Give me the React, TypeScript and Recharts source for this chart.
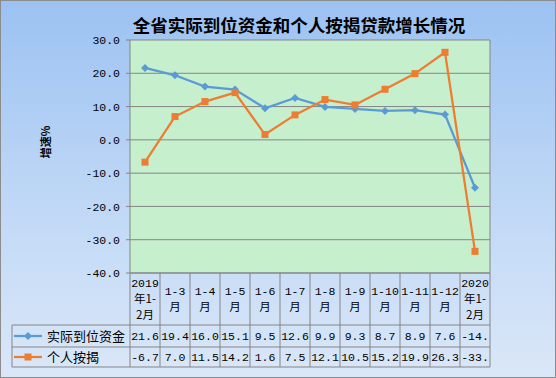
import React from "react";
import { LineChart, Line, XAxis, YAxis, CartesianGrid } from "recharts";

// 分类（表头分行显示）
const categoryLines: string[][] = [
  ["2019", "年1-", "2月"],
  ["1-3", "月"],
  ["1-4", "月"],
  ["1-5", "月"],
  ["1-6", "月"],
  ["1-7", "月"],
  ["1-8", "月"],
  ["1-9", "月"],
  ["1-10", "月"],
  ["1-11", "月"],
  ["1-12", "月"],
  ["2020", "年1-", "2月"],
];

const fundsName = "实际到位资金";
const mortgageName = "个人按揭";

const funds = [21.6, 19.4, 16.0, 15.1, 9.5, 12.6, 9.9, 9.3, 8.7, 8.9, 7.6, -14.4];
const mortgage = [-6.7, 7.0, 11.5, 14.2, 1.6, 7.5, 12.1, 10.5, 15.2, 19.9, 26.3, -33.5];

const yTicks = [-40, -30, -20, -10, 0, 10, 20, 30];

const W = 556;
const H = 378;
const MARGIN = { top: 40, right: 65, bottom: 10, left: 70 };
const Y_AXIS_W = 60;
const X_AXIS_H = 95;
const PLOT_LEFT = MARGIN.left + Y_AXIS_W;
const PLOT_W = W - MARGIN.right - 1 - PLOT_LEFT;
const COL_W = PLOT_W / categoryLines.length;

const HEADER_H = 52;
const ROW1_H = 22;
const LEGEND_LEFT = 12;

const BLUE = "#5B9BD5";
const ORANGE = "#ED7D31";
const GRID = "#858585";
const MONO = "'Liberation Mono', 'DejaVu Sans Mono', monospace";
const CJK = "'Noto Sans CJK SC', sans-serif";

const data = categoryLines.map((lines, i) => ({
  cat: lines.join(""),
  funds: funds[i],
  mortgage: mortgage[i],
}));

const fmt = (v: number) => v.toFixed(1).slice(0, 4);

function Diamond({ cx, cy }: { cx: number; cy: number }) {
  return <path d={`M${cx},${cy - 4}L${cx + 4},${cy}L${cx},${cy + 4}L${cx - 4},${cy}Z`} fill={BLUE} />;
}

function Square({ cx, cy }: { cx: number; cy: number }) {
  return <rect x={cx - 3.5} y={cy - 3.5} width={7} height={7} fill={ORANGE} />;
}

function TableTick(props: any) {
  const { x, y, payload } = props;
  const i: number = payload.index;
  const lines = categoryLines[i];
  const left = x - COL_W / 2;
  const right = x + COL_W / 2;
  const r1 = y + HEADER_H;
  const r2 = r1 + ROW1_H;
  const r3 = y + X_AXIS_H - 1;
  const headStart = y + HEADER_H / 2 - ((lines.length - 1) * 16) / 2;

  return (
    <g>
      {lines.map((t, k) => (
        <text
          key={k}
          x={x}
          y={headStart + k * 16}
          dy="0.36em"
          textAnchor="middle"
          fontSize={11.5}
          fontFamily={/[年月]/.test(t) ? CJK : MONO}
          fill="#000"
        >
          {t}
        </text>
      ))}
      <text x={x} y={r1 + ROW1_H / 2} dy="0.36em" textAnchor="middle" fontSize={11.5} fontFamily={MONO} fill="#000">
        {fmt(funds[i])}
      </text>
      <text x={x} y={r2 + (r3 - r2) / 2} dy="0.36em" textAnchor="middle" fontSize={11.5} fontFamily={MONO} fill="#000">
        {fmt(mortgage[i])}
      </text>
      <line x1={right} y1={y} x2={right} y2={r3} stroke={GRID} />
      <line x1={left} y1={r1} x2={right} y2={r1} stroke={GRID} />
      <line x1={left} y1={r2} x2={right} y2={r2} stroke={GRID} />
      <line x1={left} y1={r3} x2={right} y2={r3} stroke={GRID} />
      {i === 0 && (
        <g>
          <line x1={left} y1={y} x2={left} y2={r3} stroke={GRID} />
          <line x1={LEGEND_LEFT} y1={r1} x2={left} y2={r1} stroke={GRID} />
          <line x1={LEGEND_LEFT} y1={r2} x2={left} y2={r2} stroke={GRID} />
          <line x1={LEGEND_LEFT} y1={r3} x2={left} y2={r3} stroke={GRID} />
          <line x1={LEGEND_LEFT} y1={r1} x2={LEGEND_LEFT} y2={r3} stroke={GRID} />
          <line x1={14} y1={r1 + ROW1_H / 2} x2={42} y2={r1 + ROW1_H / 2} stroke={BLUE} strokeWidth={2.25} />
          <Diamond cx={28} cy={r1 + ROW1_H / 2} />
          <text x={47} y={r1 + ROW1_H / 2} dy="0.36em" fontSize={13} fontFamily={CJK} fill="#000">
            {fundsName}
          </text>
          <line x1={14} y1={r2 + (r3 - r2) / 2} x2={42} y2={r2 + (r3 - r2) / 2} stroke={ORANGE} strokeWidth={2.25} />
          <Square cx={28} cy={r2 + (r3 - r2) / 2} />
          <text x={47} y={r2 + (r3 - r2) / 2} dy="0.36em" fontSize={13} fontFamily={CJK} fill="#000">
            {mortgageName}
          </text>
        </g>
      )}
    </g>
  );
}

export default function App() {
  return (
    <div
      style={{
        position: "absolute",
        left: 0,
        top: 0,
        width: W,
        height: H,
        boxSizing: "border-box",
        border: "1px solid #8c8c8c",
        background: "linear-gradient(180deg, #9cc2f2 0%, #c3daf6 60%, #dae7f8 100%)",
        overflow: "hidden",
      }}
    >
      <div
        style={{
          position: "absolute",
          left: 0,
          top: 12,
          width: 596,
          textAlign: "center",
          fontFamily: CJK,
          fontWeight: 700,
          fontSize: 17.5,
          lineHeight: "24px",
          color: "#000",
        }}
      >
        全省实际到位资金和个人按揭贷款增长情况
      </div>
      <div
        style={{
          position: "absolute",
          left: 45 - 30 - 1,
          top: 142 - 8 - 1,
          width: 60,
          height: 16,
          textAlign: "center",
          transform: "rotate(-90deg)",
          fontFamily: CJK,
          fontWeight: 700,
          fontSize: 11,
          lineHeight: "16px",
          color: "#000",
        }}
      >
        增速%
      </div>
      <div style={{ position: "absolute", left: -1, top: -1 }}>
        <LineChart width={W} height={H} data={data} margin={MARGIN}>
          <CartesianGrid vertical={false} stroke={GRID} fill="#C6EFCE" fillOpacity={1} />
          <XAxis
            dataKey="cat"
            interval={0}
            height={X_AXIS_H}
            padding={{ left: COL_W / 2, right: COL_W / 2 }}
            tickLine={false}
            tickSize={0}
            tickMargin={0}
            axisLine={{ stroke: GRID }}
            tick={(p: any) => <TableTick {...p} />}
          />
          <YAxis
            width={Y_AXIS_W}
            domain={[-40, 30]}
            ticks={yTicks}
            tickSize={4}
            tickMargin={6}
            tickFormatter={(v: number) => v.toFixed(1)}
            tick={{ fontSize: 11.5, fontFamily: MONO, fill: "#000" }}
            axisLine={{ stroke: GRID }}
            tickLine={{ stroke: GRID }}
          />
          <YAxis
            yAxisId="frame"
            orientation="right"
            width={1}
            domain={[-40, 30]}
            tick={false}
            tickLine={false}
            axisLine={{ stroke: GRID }}
          />
          <Line
            dataKey="funds"
            stroke={BLUE}
            strokeWidth={2.25}
            isAnimationActive={false}
            dot={(p: any) => <Diamond key={`f${p.index}`} cx={p.cx} cy={p.cy} />}
            activeDot={false}
          />
          <Line
            dataKey="mortgage"
            stroke={ORANGE}
            strokeWidth={2.25}
            isAnimationActive={false}
            dot={(p: any) => <Square key={`m${p.index}`} cx={p.cx} cy={p.cy} />}
            activeDot={false}
          />
        </LineChart>
      </div>
    </div>
  );
}
